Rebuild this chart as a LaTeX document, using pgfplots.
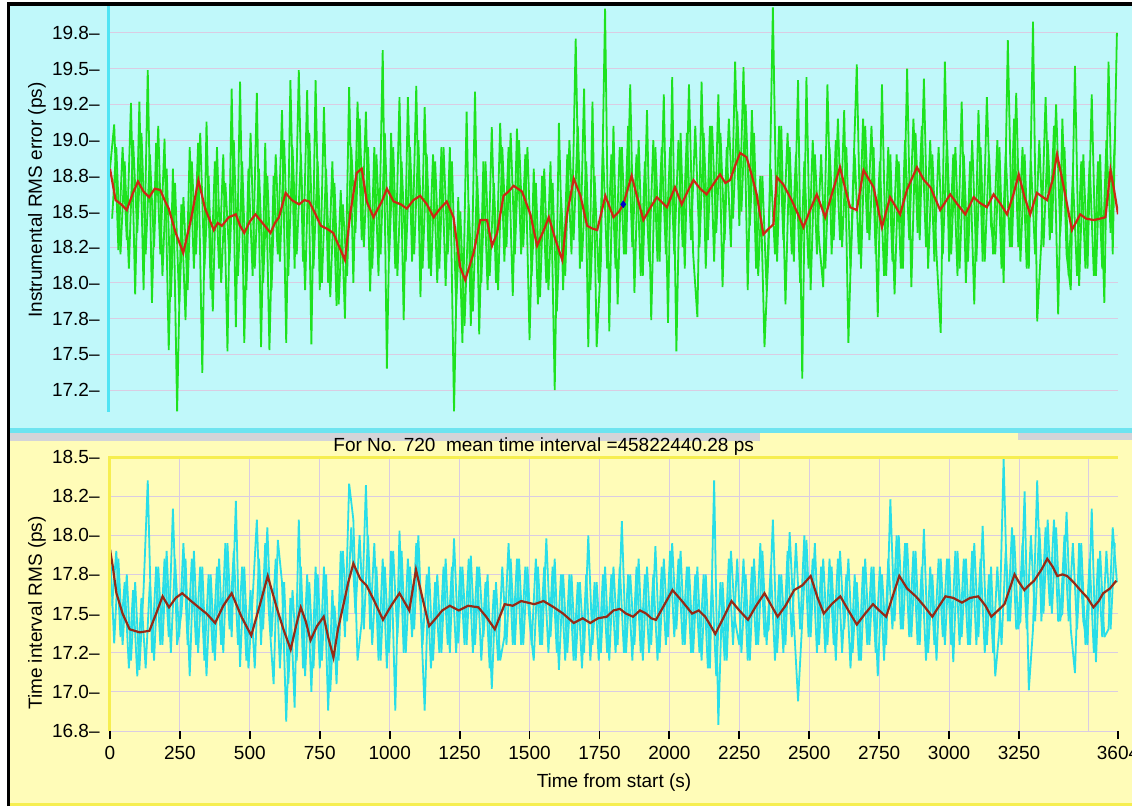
\documentclass[border=0pt]{standalone}
\usepackage{fontspec}
\setmainfont{Liberation Sans}
\usepackage{pgfplots}
\usepackage{pgfplotstable}
\pgfplotsset{compat=1.18}

\definecolor{topbg}{RGB}{192,248,250}
\definecolor{topband}{RGB}{110,228,240}
\definecolor{grayband}{RGB}{212,212,216}
\definecolor{botbg}{RGB}{255,252,184}
\definecolor{yelline}{RGB}{246,238,80}
\definecolor{gridc}{RGB}{218,204,226}
\definecolor{sig1}{RGB}{30,226,30}
\definecolor{sig2}{RGB}{40,222,232}
\definecolor{avg1}{RGB}{205,40,20}
\definecolor{avg2}{RGB}{150,42,22}
\definecolor{cyanaxis}{RGB}{80,228,244}

% instrumental RMS error, samples on the 15 s grid
\pgfplotstableread[row sep=\\]{
t v\\
0 18.80\\ 15 19.11\\ 30 18.23\\ 45 18.95\\ 60 18.30\\ 75 19.26\\ 90 17.92\\ 105 19.27\\ 120 17.95\\ 135 19.49\\
150 17.86\\ 165 18.98\\ 180 18.20\\ 195 19.01\\ 210 17.53\\ 225 18.80\\ 240 17.10\\ 255 18.55\\ 270 17.74\\ 285 18.95\\
300 18.10\\ 315 18.98\\ 330 17.37\\ 345 19.13\\ 360 17.95\\ 375 18.85\\ 390 18.10\\ 405 18.90\\ 420 17.52\\ 435 19.36\\
450 17.69\\ 465 19.41\\ 480 17.58\\ 495 18.80\\ 510 18.05\\ 525 19.33\\ 540 17.55\\ 555 18.98\\ 570 17.53\\ 585 18.75\\
600 18.20\\ 615 19.21\\ 630 17.58\\ 645 19.42\\ 660 18.10\\ 675 19.49\\ 690 18.15\\ 705 19.35\\ 720 17.57\\ 735 19.42\\
750 17.95\\ 765 19.23\\ 780 18.00\\ 795 18.85\\ 810 17.84\\ 825 18.65\\ 840 17.75\\ 855 19.37\\ 870 18.00\\ 885 19.27\\
900 18.30\\ 915 19.20\\ 930 17.94\\ 945 18.95\\ 960 18.05\\ 975 19.63\\ 990 17.40\\ 1005 19.05\\ 1020 18.10\\ 1035 19.30\\
1050 17.74\\ 1065 19.30\\ 1080 18.15\\ 1095 19.38\\ 1110 17.90\\ 1125 19.23\\ 1140 18.10\\ 1155 18.90\\ 1170 18.00\\ 1185 18.95\\
1200 17.98\\ 1215 18.95\\ 1230 17.10\\ 1245 18.60\\ 1260 17.58\\ 1275 19.20\\ 1290 17.70\\ 1305 19.34\\ 1320 17.64\\ 1335 18.85\\
1350 17.95\\ 1365 19.09\\ 1380 18.00\\ 1395 19.12\\ 1410 18.15\\ 1425 18.95\\ 1440 17.91\\ 1455 19.08\\ 1470 18.20\\ 1485 18.90\\
1500 17.60\\ 1515 18.80\\ 1530 17.85\\ 1545 18.75\\ 1560 18.00\\ 1575 18.85\\ 1590 17.25\\ 1605 19.12\\ 1620 17.95\\ 1635 18.90\\
1650 18.20\\ 1665 19.71\\ 1680 18.10\\ 1695 19.36\\ 1710 17.55\\ 1725 19.27\\ 1740 17.55\\ 1755 18.15\\ 1770 19.92\\ 1785 17.66\\
1800 19.10\\ 1815 17.85\\ 1830 18.95\\ 1845 18.20\\ 1860 19.39\\ 1875 17.93\\ 1890 19.00\\ 1905 18.05\\ 1920 19.21\\ 1935 17.74\\
1950 18.95\\ 1965 18.15\\ 1980 19.32\\ 1995 17.72\\ 2010 19.44\\ 2025 17.52\\ 2040 19.05\\ 2055 18.10\\ 2070 19.39\\ 2085 18.20\\
2100 17.76\\ 2115 19.41\\ 2130 18.10\\ 2145 19.10\\ 2160 18.15\\ 2175 19.32\\ 2190 17.97\\ 2205 18.95\\ 2220 18.25\\ 2235 19.55\\
2250 18.40\\ 2265 19.51\\ 2280 17.95\\ 2295 19.21\\ 2310 18.10\\ 2325 18.75\\ 2340 17.55\\ 2355 18.25\\ 2370 19.93\\ 2385 18.15\\
2400 19.10\\ 2415 17.85\\ 2430 18.95\\ 2445 18.15\\ 2460 19.42\\ 2475 17.33\\ 2490 19.44\\ 2505 17.95\\ 2520 18.90\\ 2535 18.30\\
2550 17.97\\ 2565 19.39\\ 2580 18.20\\ 2595 19.00\\ 2610 18.30\\ 2625 19.21\\ 2640 17.58\\ 2655 18.60\\ 2670 19.53\\ 2685 18.10\\
2700 19.10\\ 2715 18.30\\ 2730 18.95\\ 2745 17.76\\ 2760 19.39\\ 2775 18.05\\ 2790 18.90\\ 2805 17.92\\ 2820 18.85\\ 2835 18.10\\
2850 19.50\\ 2865 17.97\\ 2880 19.05\\ 2895 18.30\\ 2910 19.43\\ 2925 18.10\\ 2940 18.90\\ 2955 18.20\\ 2970 17.65\\ 2985 19.55\\
3000 18.15\\ 3015 18.90\\ 3030 18.05\\ 3045 19.27\\ 3060 18.00\\ 3075 18.85\\ 3090 17.85\\ 3105 19.21\\ 3120 18.15\\ 3135 19.30\\
3150 18.40\\ 3165 18.20\\ 3180 18.95\\ 3195 18.00\\ 3210 19.70\\ 3225 18.25\\ 3240 19.33\\ 3255 18.15\\ 3270 18.90\\ 3285 18.10\\
3300 19.83\\ 3315 17.73\\ 3330 18.30\\ 3345 19.30\\ 3360 18.30\\ 3375 19.10\\ 3390 17.78\\ 3405 19.15\\ 3420 18.20\\ 3435 17.95\\
3450 19.52\\ 3465 17.98\\ 3480 18.90\\ 3495 18.10\\ 3510 19.32\\ 3525 18.05\\ 3540 18.90\\ 3555 17.86\\ 3570 19.55\\ 3585 18.20\\
3600 19.75\\
}\rmserrA

% instrumental RMS error, samples between the 15 s grid
\pgfplotstableread[row sep=\\]{
t v\\
7.5 18.45\\ 22.5 18.95\\ 37.5 18.20\\ 52.5 18.85\\ 67.5 18.10\\ 82.5 19.00\\ 97.5 18.35\\ 112.5 19.05\\ 127.5 18.20\\ 142.5 18.90\\
157.5 18.25\\ 172.5 19.10\\ 187.5 18.05\\ 202.5 18.80\\ 217.5 17.90\\ 232.5 18.70\\ 247.5 17.85\\ 262.5 18.60\\ 277.5 17.95\\ 292.5 18.85\\
307.5 18.20\\ 322.5 19.05\\ 337.5 18.10\\ 352.5 18.75\\ 367.5 17.80\\ 382.5 18.95\\ 397.5 18.00\\ 412.5 18.70\\ 427.5 18.15\\ 442.5 19.00\\
457.5 18.05\\ 472.5 18.85\\ 487.5 17.95\\ 502.5 19.05\\ 517.5 18.10\\ 532.5 18.80\\ 547.5 18.00\\ 562.5 18.75\\ 577.5 17.95\\ 592.5 18.90\\
607.5 18.15\\ 622.5 19.00\\ 637.5 18.05\\ 652.5 18.95\\ 667.5 18.20\\ 682.5 18.90\\ 697.5 17.95\\ 712.5 19.05\\ 727.5 18.10\\ 742.5 18.85\\
757.5 18.00\\ 772.5 18.80\\ 787.5 17.90\\ 802.5 18.70\\ 817.5 17.85\\ 832.5 18.55\\ 847.5 18.05\\ 862.5 18.95\\ 877.5 18.35\\ 892.5 19.15\\
907.5 18.25\\ 922.5 18.95\\ 937.5 18.10\\ 952.5 18.90\\ 967.5 18.20\\ 982.5 19.05\\ 997.5 18.15\\ 1012.5 18.95\\ 1027.5 18.05\\ 1042.5 18.85\\
1057.5 18.15\\ 1072.5 18.95\\ 1087.5 18.20\\ 1102.5 19.00\\ 1117.5 18.10\\ 1132.5 18.90\\ 1147.5 18.05\\ 1162.5 18.85\\ 1177.5 18.10\\ 1192.5 18.95\\
1207.5 18.20\\ 1222.5 18.85\\ 1237.5 17.85\\ 1252.5 18.50\\ 1267.5 17.70\\ 1282.5 18.55\\ 1297.5 17.80\\ 1312.5 18.75\\ 1327.5 18.00\\ 1342.5 18.85\\
1357.5 18.05\\ 1372.5 18.70\\ 1387.5 17.95\\ 1402.5 18.95\\ 1417.5 18.25\\ 1432.5 19.05\\ 1447.5 18.20\\ 1462.5 19.00\\ 1477.5 18.25\\ 1492.5 18.95\\
1507.5 18.05\\ 1522.5 18.70\\ 1537.5 17.90\\ 1552.5 18.80\\ 1567.5 17.95\\ 1582.5 18.70\\ 1597.5 17.80\\ 1612.5 18.60\\ 1627.5 18.05\\ 1642.5 19.00\\
1657.5 18.30\\ 1672.5 19.10\\ 1687.5 18.15\\ 1702.5 18.85\\ 1717.5 17.95\\ 1732.5 18.75\\ 1747.5 18.00\\ 1762.5 18.95\\ 1777.5 18.10\\ 1792.5 18.90\\
1807.5 18.10\\ 1822.5 18.95\\ 1837.5 18.20\\ 1852.5 19.10\\ 1867.5 18.25\\ 1882.5 18.90\\ 1897.5 18.05\\ 1912.5 18.85\\ 1927.5 18.15\\ 1942.5 19.00\\
1957.5 18.15\\ 1972.5 18.95\\ 1987.5 18.20\\ 2002.5 18.95\\ 2017.5 18.20\\ 2032.5 19.00\\ 2047.5 18.25\\ 2062.5 19.05\\ 2077.5 18.30\\ 2092.5 19.10\\
2107.5 18.25\\ 2122.5 19.05\\ 2137.5 18.30\\ 2152.5 19.10\\ 2167.5 18.35\\ 2182.5 19.05\\ 2197.5 18.30\\ 2212.5 19.15\\ 2227.5 18.45\\ 2242.5 19.20\\
2257.5 18.50\\ 2272.5 19.25\\ 2287.5 18.40\\ 2302.5 19.05\\ 2317.5 18.05\\ 2332.5 18.75\\ 2347.5 17.95\\ 2362.5 18.80\\ 2377.5 18.20\\ 2392.5 19.10\\
2407.5 18.30\\ 2422.5 19.05\\ 2437.5 18.20\\ 2452.5 18.90\\ 2467.5 18.00\\ 2482.5 18.85\\ 2497.5 18.10\\ 2512.5 19.00\\ 2527.5 18.20\\ 2542.5 18.90\\
2557.5 18.10\\ 2572.5 18.95\\ 2587.5 18.30\\ 2602.5 19.15\\ 2617.5 18.25\\ 2632.5 18.95\\ 2647.5 18.10\\ 2662.5 18.90\\ 2677.5 18.20\\ 2692.5 19.15\\
2707.5 18.35\\ 2722.5 19.10\\ 2737.5 18.20\\ 2752.5 18.85\\ 2767.5 18.05\\ 2782.5 18.95\\ 2797.5 18.15\\ 2812.5 18.90\\ 2827.5 18.10\\ 2842.5 19.00\\
2857.5 18.30\\ 2872.5 19.15\\ 2887.5 18.35\\ 2902.5 19.10\\ 2917.5 18.25\\ 2932.5 19.00\\ 2947.5 18.15\\ 2962.5 18.95\\ 2977.5 18.20\\ 2992.5 19.00\\
3007.5 18.20\\ 3022.5 18.95\\ 3037.5 18.10\\ 3052.5 18.90\\ 3067.5 18.15\\ 3082.5 19.00\\ 3097.5 18.15\\ 3112.5 18.95\\ 3127.5 18.15\\ 3142.5 18.90\\
3157.5 18.20\\ 3172.5 19.00\\ 3187.5 18.10\\ 3202.5 18.90\\ 3217.5 18.25\\ 3232.5 19.15\\ 3247.5 18.25\\ 3262.5 18.95\\ 3277.5 18.10\\ 3292.5 18.85\\
3307.5 18.20\\ 3322.5 19.00\\ 3337.5 18.25\\ 3352.5 19.00\\ 3367.5 18.35\\ 3382.5 19.25\\ 3397.5 18.35\\ 3412.5 18.95\\ 3427.5 18.05\\ 3442.5 18.75\\
3457.5 18.05\\ 3472.5 18.85\\ 3487.5 18.10\\ 3502.5 18.85\\ 3517.5 18.05\\ 3532.5 18.85\\ 3547.5 18.10\\ 3562.5 19.00\\ 3577.5 18.35\\ 3592.5 19.00\\
}\rmserrB

% time interval RMS, samples on the 15 s grid
\pgfplotstableread[row sep=\\]{
t v\\
0 17.92\\ 15 17.31\\ 30 17.85\\ 45 17.30\\ 60 17.75\\ 75 17.20\\ 90 17.70\\ 105 17.14\\ 120 17.65\\ 135 18.35\\
150 17.25\\ 165 17.80\\ 180 17.30\\ 195 17.85\\ 210 17.35\\ 225 18.17\\ 240 17.30\\ 255 17.50\\ 270 17.85\\ 285 17.10\\
300 17.90\\ 315 17.25\\ 330 17.80\\ 345 17.10\\ 360 17.75\\ 375 17.20\\ 390 17.85\\ 405 17.25\\ 420 17.95\\ 435 17.35\\
450 18.22\\ 465 17.16\\ 480 17.80\\ 495 17.15\\ 510 17.60\\ 525 18.10\\ 540 17.30\\ 555 17.95\\ 570 17.45\\ 585 17.05\\
600 17.97\\ 615 17.70\\ 630 16.81\\ 645 17.60\\ 660 16.90\\ 675 18.10\\ 690 17.15\\ 705 17.75\\ 720 17.00\\ 735 17.80\\
750 17.15\\ 765 17.80\\ 780 16.88\\ 795 17.65\\ 810 17.05\\ 825 17.90\\ 840 17.35\\ 855 18.33\\ 870 18.10\\ 885 17.20\\
900 17.45\\ 915 18.32\\ 930 17.40\\ 945 17.95\\ 960 17.20\\ 975 17.85\\ 990 17.15\\ 1005 17.90\\ 1020 16.88\\ 1035 18.03\\
1050 17.25\\ 1065 17.85\\ 1080 17.35\\ 1095 17.95\\ 1110 17.55\\ 1125 16.88\\ 1140 17.80\\ 1155 17.20\\ 1170 17.75\\ 1185 17.25\\
1200 17.85\\ 1215 17.25\\ 1230 17.98\\ 1245 17.31\\ 1260 17.80\\ 1275 17.30\\ 1290 17.87\\ 1305 17.30\\ 1320 17.80\\ 1335 17.35\\
1350 17.75\\ 1365 17.02\\ 1380 17.70\\ 1395 17.20\\ 1410 17.35\\ 1425 17.95\\ 1440 17.30\\ 1455 17.85\\ 1470 17.30\\ 1485 17.80\\
1500 17.45\\ 1515 17.20\\ 1530 17.80\\ 1545 17.30\\ 1560 17.98\\ 1575 17.35\\ 1590 17.85\\ 1605 17.14\\ 1620 17.75\\ 1635 17.25\\
1650 17.75\\ 1665 17.20\\ 1680 17.70\\ 1695 17.25\\ 1710 18.00\\ 1725 17.30\\ 1740 17.70\\ 1755 17.25\\ 1770 17.80\\ 1785 17.20\\
1800 17.80\\ 1815 17.30\\ 1830 18.09\\ 1845 17.25\\ 1860 17.75\\ 1875 17.30\\ 1890 17.85\\ 1905 17.20\\ 1920 17.80\\ 1935 17.30\\
1950 17.93\\ 1965 17.25\\ 1980 17.85\\ 1995 17.35\\ 2010 17.95\\ 2025 17.40\\ 2040 17.90\\ 2055 17.30\\ 2070 17.80\\ 2085 17.25\\
2100 17.80\\ 2115 17.20\\ 2130 17.75\\ 2145 17.15\\ 2160 18.35\\ 2175 16.79\\ 2190 17.70\\ 2205 17.20\\ 2220 17.90\\ 2235 17.45\\
2250 17.30\\ 2265 17.85\\ 2280 17.20\\ 2295 17.80\\ 2310 17.30\\ 2325 17.95\\ 2340 17.35\\ 2355 17.40\\ 2370 18.10\\ 2385 17.25\\
2400 17.75\\ 2415 17.30\\ 2430 18.02\\ 2445 17.45\\ 2460 16.94\\ 2475 17.45\\ 2490 17.97\\ 2505 17.35\\ 2520 17.95\\ 2535 17.30\\
2550 17.85\\ 2565 17.30\\ 2580 17.80\\ 2595 17.20\\ 2610 17.90\\ 2625 17.40\\ 2640 17.85\\ 2655 17.25\\ 2670 17.70\\ 2685 17.20\\
2700 17.85\\ 2715 17.30\\ 2730 17.80\\ 2745 17.10\\ 2760 17.75\\ 2775 17.30\\ 2790 18.23\\ 2805 17.45\\ 2820 18.00\\ 2835 17.40\\
2850 17.95\\ 2865 17.35\\ 2880 17.90\\ 2895 17.30\\ 2910 18.04\\ 2925 17.25\\ 2940 17.75\\ 2955 17.20\\ 2970 17.85\\ 2985 17.30\\
3000 17.85\\ 3015 17.19\\ 3030 17.90\\ 3045 17.35\\ 3060 17.85\\ 3075 17.30\\ 3090 17.95\\ 3105 17.35\\ 3120 18.06\\ 3135 17.30\\
3150 17.80\\ 3165 17.10\\ 3180 17.40\\ 3195 18.49\\ 3210 17.45\\ 3225 18.05\\ 3240 17.40\\ 3255 17.45\\ 3270 18.28\\ 3285 17.01\\
3300 17.40\\ 3315 18.35\\ 3330 17.45\\ 3345 18.05\\ 3360 17.55\\ 3375 18.10\\ 3390 17.45\\ 3405 17.50\\ 3420 18.15\\ 3435 17.40\\
3450 17.12\\ 3465 17.95\\ 3480 17.45\\ 3495 17.30\\ 3510 18.17\\ 3525 17.19\\ 3540 17.90\\ 3555 17.35\\ 3570 17.40\\ 3585 18.05\\
3600 17.70\\
}\tirmsA

% time interval RMS, samples between the 15 s grid
\pgfplotstableread[row sep=\\]{
t v\\
7.5 17.55\\ 22.5 17.90\\ 37.5 17.35\\ 52.5 17.70\\ 67.5 17.15\\ 82.5 17.65\\ 97.5 17.10\\ 112.5 17.60\\ 127.5 17.15\\ 142.5 17.70\\
157.5 17.20\\ 172.5 17.80\\ 187.5 17.30\\ 202.5 17.90\\ 217.5 17.25\\ 232.5 17.85\\ 247.5 17.35\\ 262.5 17.95\\ 277.5 17.30\\ 292.5 17.85\\
307.5 17.30\\ 322.5 17.80\\ 337.5 17.20\\ 352.5 17.75\\ 367.5 17.25\\ 382.5 17.80\\ 397.5 17.30\\ 412.5 17.95\\ 427.5 17.40\\ 442.5 17.90\\
457.5 17.30\\ 472.5 17.80\\ 487.5 17.20\\ 502.5 17.65\\ 517.5 17.15\\ 532.5 17.85\\ 547.5 17.40\\ 562.5 18.05\\ 577.5 17.35\\ 592.5 17.85\\
607.5 17.15\\ 622.5 17.70\\ 637.5 17.05\\ 652.5 17.65\\ 667.5 17.20\\ 682.5 17.80\\ 697.5 17.10\\ 712.5 17.70\\ 727.5 17.15\\ 742.5 17.75\\
757.5 17.20\\ 772.5 17.75\\ 787.5 17.00\\ 802.5 17.55\\ 817.5 17.20\\ 832.5 17.90\\ 847.5 17.45\\ 862.5 18.05\\ 877.5 17.50\\ 892.5 18.00\\
907.5 17.40\\ 922.5 18.00\\ 937.5 17.30\\ 952.5 17.80\\ 967.5 17.20\\ 982.5 17.80\\ 997.5 17.25\\ 1012.5 17.90\\ 1027.5 17.35\\ 1042.5 17.90\\
1057.5 17.25\\ 1072.5 17.80\\ 1087.5 17.40\\ 1102.5 18.00\\ 1117.5 17.30\\ 1132.5 17.75\\ 1147.5 17.15\\ 1162.5 17.70\\ 1177.5 17.25\\ 1192.5 17.80\\
1207.5 17.30\\ 1222.5 17.80\\ 1237.5 17.25\\ 1252.5 17.80\\ 1267.5 17.30\\ 1282.5 17.85\\ 1297.5 17.25\\ 1312.5 17.80\\ 1327.5 17.20\\ 1342.5 17.70\\
1357.5 17.15\\ 1372.5 17.65\\ 1387.5 17.20\\ 1402.5 17.80\\ 1417.5 17.30\\ 1432.5 17.85\\ 1447.5 17.30\\ 1462.5 17.85\\ 1477.5 17.30\\ 1492.5 17.80\\
1507.5 17.30\\ 1522.5 17.85\\ 1537.5 17.30\\ 1552.5 17.80\\ 1567.5 17.25\\ 1582.5 17.80\\ 1597.5 17.25\\ 1612.5 17.75\\ 1627.5 17.20\\ 1642.5 17.75\\
1657.5 17.20\\ 1672.5 17.70\\ 1687.5 17.15\\ 1702.5 17.75\\ 1717.5 17.20\\ 1732.5 17.70\\ 1747.5 17.20\\ 1762.5 17.75\\ 1777.5 17.25\\ 1792.5 17.75\\
1807.5 17.25\\ 1822.5 17.80\\ 1837.5 17.25\\ 1852.5 17.75\\ 1867.5 17.20\\ 1882.5 17.80\\ 1897.5 17.25\\ 1912.5 17.75\\ 1927.5 17.25\\ 1942.5 17.75\\
1957.5 17.20\\ 1972.5 17.80\\ 1987.5 17.30\\ 2002.5 17.90\\ 2017.5 17.35\\ 2032.5 17.85\\ 2047.5 17.30\\ 2062.5 17.80\\ 2077.5 17.25\\ 2092.5 17.75\\
2107.5 17.25\\ 2122.5 17.75\\ 2137.5 17.15\\ 2152.5 17.70\\ 2167.5 17.10\\ 2182.5 17.70\\ 2197.5 17.20\\ 2212.5 17.85\\ 2227.5 17.30\\ 2242.5 17.85\\
2257.5 17.25\\ 2272.5 17.75\\ 2287.5 17.20\\ 2302.5 17.85\\ 2317.5 17.30\\ 2332.5 17.90\\ 2347.5 17.30\\ 2362.5 17.80\\ 2377.5 17.20\\ 2392.5 17.75\\
2407.5 17.25\\ 2422.5 17.90\\ 2437.5 17.35\\ 2452.5 17.95\\ 2467.5 17.40\\ 2482.5 18.00\\ 2497.5 17.35\\ 2512.5 17.85\\ 2527.5 17.25\\ 2542.5 17.80\\
2557.5 17.25\\ 2572.5 17.85\\ 2587.5 17.30\\ 2602.5 17.85\\ 2617.5 17.25\\ 2632.5 17.75\\ 2647.5 17.15\\ 2662.5 17.75\\ 2677.5 17.20\\ 2692.5 17.80\\
2707.5 17.30\\ 2722.5 17.80\\ 2737.5 17.25\\ 2752.5 17.80\\ 2767.5 17.20\\ 2782.5 17.85\\ 2797.5 17.40\\ 2812.5 18.00\\ 2827.5 17.40\\ 2842.5 17.95\\
2857.5 17.35\\ 2872.5 17.90\\ 2887.5 17.30\\ 2902.5 17.80\\ 2917.5 17.20\\ 2932.5 17.80\\ 2947.5 17.30\\ 2962.5 17.85\\ 2977.5 17.35\\ 2992.5 17.85\\
3007.5 17.30\\ 3022.5 17.90\\ 3037.5 17.30\\ 3052.5 17.85\\ 3067.5 17.30\\ 3082.5 17.90\\ 3097.5 17.30\\ 3112.5 17.85\\ 3127.5 17.25\\ 3142.5 17.75\\
3157.5 17.25\\ 3172.5 17.80\\ 3187.5 17.30\\ 3202.5 17.90\\ 3217.5 17.45\\ 3232.5 18.00\\ 3247.5 17.40\\ 3262.5 17.95\\ 3277.5 17.40\\ 3292.5 18.00\\
3307.5 17.45\\ 3322.5 18.05\\ 3337.5 17.50\\ 3352.5 18.10\\ 3367.5 17.50\\ 3382.5 18.05\\ 3397.5 17.45\\ 3412.5 18.00\\ 3427.5 17.45\\ 3442.5 17.95\\
3457.5 17.40\\ 3472.5 17.95\\ 3487.5 17.30\\ 3502.5 17.85\\ 3517.5 17.25\\ 3532.5 17.85\\ 3547.5 17.35\\ 3562.5 17.90\\ 3577.5 17.40\\ 3592.5 17.95\\
}\tirmsB

\begin{document}
\fontsize{9.5bp}{11bp}\selectfont
\begin{tikzpicture}
% panels
\fill[white] (0,0) rectangle (566bp,-404.5bp);
\fill[topbg] (5bp,-3bp) rectangle (566bp,-216.5bp);
\fill[topband] (5bp,-214bp) rectangle (566bp,-216.5bp);
\fill[botbg] (5bp,-216.5bp) rectangle (566bp,-402.5bp);
\fill[grayband] (5bp,-216.5bp) rectangle (380bp,-220.5bp);
\fill[grayband] (509bp,-216.5bp) rectangle (566bp,-220bp);
\fill[yelline] (5bp,-401.5bp) rectangle (566bp,-403bp);

\pgfplotsset{
  panel/.style={
    scale only axis, width=504bp,
    xmin=0, xmax=3604,
    axis line style={draw=none},
    tick pos=left,
    tick align=outside, major tick length=4bp,
    ytick style={draw=none},
    yticklabel style={inner sep=0pt, xshift=-1bp},
    minor xtick={0,250,500,750,1000,1250,1500,1750,2000,2250,2500,2750,3000,3250,3500},
    minor tick length=0pt,
    minor tick style={draw=none},
    xminorgrids=true, ymajorgrids=true,
    grid style={gridc, line width=0.5bp},
    minor grid style={gridc, line width=0.5bp},
    tick label style={font=\fontsize{9.5bp}{11bp}\selectfont},
  },
}

\begin{axis}[panel,
  at={(55bp,-206bp)}, anchor=south west, height=203bp,
  ymin=17.096, ymax=19.939,
  xtick=\empty,
  ytick={17.25,17.5,17.75,18,18.25,18.5,18.75,19,19.25,19.5,19.75},
  yticklabels={17.2--,17.5--,17.8--,18.0--,18.2--,18.5--,18.8--,19.0--,19.2--,19.5--,19.8--},
]
\addplot[sig1, line width=0.9bp, line join=bevel] table[x=t, y=v] {\rmserrB};
\addplot[sig1, line width=0.9bp, line join=bevel] table[x=t, y=v] {\rmserrA};
\addplot[avg1, line width=1.1bp] coordinates {
(0,18.80)(20,18.58)(40,18.55)(60,18.51)(80,18.62)(100,18.71)(120,18.64)(140,18.60)(160,18.66)(180,18.65)
(195,18.58)(210,18.52)(235,18.35)(262,18.21)(290,18.45)(316,18.72)(340,18.52)(371,18.37)(385,18.42)(400,18.40)
(425,18.46)(450,18.48)(465,18.40)(480,18.35)(500,18.43)(520,18.48)(545,18.42)(574,18.35)(590,18.42)(604,18.46)
(628,18.63)(650,18.58)(676,18.55)(695,18.58)(712,18.57)(735,18.48)(754,18.40)(775,18.38)(798,18.35)(820,18.25)
(840,18.16)(860,18.50)(882,18.77)(900,18.80)(918,18.57)(942,18.46)(958,18.52)(972,18.57)(990,18.66)(1014,18.57)
(1040,18.55)(1061,18.52)(1085,18.58)(1109,18.61)(1133,18.55)(1157,18.46)(1180,18.52)(1204,18.57)(1228,18.46)(1252,18.11)
(1270,18.02)(1300,18.21)(1324,18.44)(1348,18.44)(1366,18.26)(1384,18.35)(1407,18.61)(1425,18.64)(1443,18.68)(1473,18.64)
(1503,18.48)(1527,18.26)(1551,18.37)(1569,18.46)(1593,18.30)(1617,18.16)(1634,18.48)(1658,18.73)(1682,18.61)(1706,18.40)
(1725,18.38)(1742,18.37)(1771,18.61)(1800,18.46)(1820,18.50)(1835,18.55)(1865,18.75)(1885,18.60)(1907,18.44)(1930,18.52)
(1955,18.60)(1991,18.53)(2020,18.67)(2044,18.55)(2065,18.64)(2086,18.72)(2110,18.66)(2133,18.62)(2160,18.70)(2181,18.76)
(2200,18.70)(2217,18.72)(2235,18.82)(2253,18.91)(2276,18.88)(2295,18.75)(2312,18.62)(2336,18.34)(2355,18.38)(2372,18.41)
(2384,18.74)(2407,18.69)(2437,18.58)(2460,18.48)(2479,18.39)(2505,18.52)(2527,18.62)(2557,18.46)(2585,18.65)(2610,18.81)
(2630,18.65)(2646,18.53)(2670,18.51)(2694,18.79)(2730,18.67)(2760,18.39)(2789,18.60)(2825,18.48)(2849,18.65)(2885,18.81)
(2910,18.72)(2933,18.67)(2968,18.51)(3004,18.62)(3030,18.55)(3058,18.48)(3088,18.60)(3110,18.56)(3135,18.53)(3159,18.62)
(3185,18.55)(3207,18.48)(3230,18.62)(3249,18.76)(3270,18.60)(3290,18.48)(3314,18.63)(3350,18.58)(3370,18.72)(3386,18.90)
(3410,18.67)(3439,18.37)(3469,18.48)(3490,18.45)(3517,18.44)(3540,18.45)(3559,18.46)(3577,18.79)(3590,18.65)(3604,18.48)
};
\addplot[only marks, mark=diamond*, mark size=1.6bp, color=blue!80!black] coordinates {(1835,18.55)};
\end{axis}

\begin{axis}[panel,
  at={(55bp,-365.5bp)}, anchor=south west, height=137bp,
  ymin=16.75, ymax=18.5,
  xtick={0,250,500,750,1000,1250,1500,1750,2000,2250,2500,2750,3000,3250,3604},
  xticklabels={0,250,500,750,1000,1250,1500,1750,2000,2250,2500,2750,3000,3250,3604},
  xtick style={draw=black, line width=0.9bp},
  ytick={16.75,17,17.25,17.5,17.75,18,18.25,18.5},
  yticklabels={16.8--,17.0--,17.2--,17.5--,17.8--,18.0--,18.2--,18.5--},
]
\addplot[sig2, line width=0.9bp, line join=bevel] table[x=t, y=v] {\tirmsB};
\addplot[sig2, line width=0.9bp, line join=bevel] table[x=t, y=v] {\tirmsA};
\addplot[avg2, line width=1.1bp] coordinates {
(0,17.91)(10,17.80)(23,17.63)(45,17.50)(70,17.40)(106,17.38)(141,17.39)(165,17.50)(188,17.61)(211,17.54)
(235,17.60)(258,17.63)(290,17.58)(317,17.54)(345,17.50)(376,17.44)(405,17.55)(435,17.63)(470,17.48)(505,17.36)
(535,17.55)(564,17.74)(599,17.52)(620,17.40)(646,17.27)(665,17.42)(682,17.54)(700,17.45)(717,17.33)(740,17.42)
(764,17.48)(780,17.35)(799,17.22)(815,17.40)(835,17.56)(852,17.70)(870,17.82)(895,17.72)(917,17.68)(945,17.58)
(976,17.46)(1005,17.55)(1035,17.63)(1070,17.52)(1094,17.78)(1117,17.60)(1141,17.42)(1165,17.47)(1188,17.52)(1215,17.55)
(1247,17.52)(1280,17.55)(1317,17.54)(1345,17.48)(1376,17.40)(1411,17.56)(1440,17.55)(1470,17.58)(1517,17.56)(1550,17.58)
(1587,17.54)(1620,17.50)(1658,17.44)(1690,17.47)(1717,17.44)(1745,17.47)(1776,17.48)(1800,17.52)(1823,17.53)(1845,17.50)
(1870,17.48)(1895,17.52)(1917,17.50)(1935,17.47)(1952,17.46)(1980,17.55)(2011,17.65)(2045,17.58)(2081,17.50)(2105,17.52)
(2128,17.48)(2145,17.43)(2164,17.37)(2195,17.48)(2222,17.58)(2250,17.52)(2281,17.46)(2310,17.55)(2340,17.63)(2365,17.55)
(2387,17.48)(2415,17.55)(2446,17.65)(2475,17.68)(2505,17.74)(2530,17.60)(2552,17.50)(2580,17.56)(2611,17.61)(2640,17.52)
(2670,17.43)(2700,17.50)(2728,17.56)(2750,17.52)(2775,17.48)(2800,17.62)(2822,17.74)(2850,17.66)(2881,17.61)(2910,17.55)
(2940,17.48)(2965,17.55)(2987,17.61)(3015,17.60)(3046,17.57)(3075,17.60)(3104,17.61)(3130,17.55)(3151,17.48)(3175,17.52)
(3198,17.56)(3215,17.65)(3234,17.75)(3250,17.70)(3269,17.65)(3285,17.68)(3304,17.71)(3330,17.78)(3351,17.85)(3370,17.80)
(3387,17.74)(3405,17.75)(3422,17.74)(3445,17.70)(3469,17.65)(3495,17.60)(3516,17.54)(3535,17.58)(3551,17.63)(3575,17.66)
(3598,17.71)
};
\end{axis}

% axis edges, frame and texts
\draw[cyanaxis, line width=1.5bp] (54bp,-3bp) -- (54bp,-206bp);
\draw[yelline, line width=1.5bp] (54.5bp,-228.5bp) -- (54.5bp,-365.5bp);
\draw[yelline, line width=1.5bp] (54bp,-228.5bp) -- (559bp,-228.5bp);
\draw[black, line width=1.6bp] (4.2bp,-403bp) -- (4.2bp,-2bp) -- (566bp,-2bp);
\node[anchor=west, inner sep=0pt] at (166.5bp,-223.5bp) {For No. 720\ \ mean time interval =45822440.28 ps};
\node[inner sep=0pt] at (307bp,-391.5bp) {Time from start (s)};
\node[rotate=90, inner sep=0pt] at (18.5bp,-100bp) {Instrumental RMS error (ps)};
\node[rotate=90, inner sep=0pt] at (18.5bp,-306.5bp) {Time interval RMS (ps)};
\pgfresetboundingbox
\useasboundingbox (0,0) rectangle (566bp,-404.5bp);
\end{tikzpicture}
\end{document}
